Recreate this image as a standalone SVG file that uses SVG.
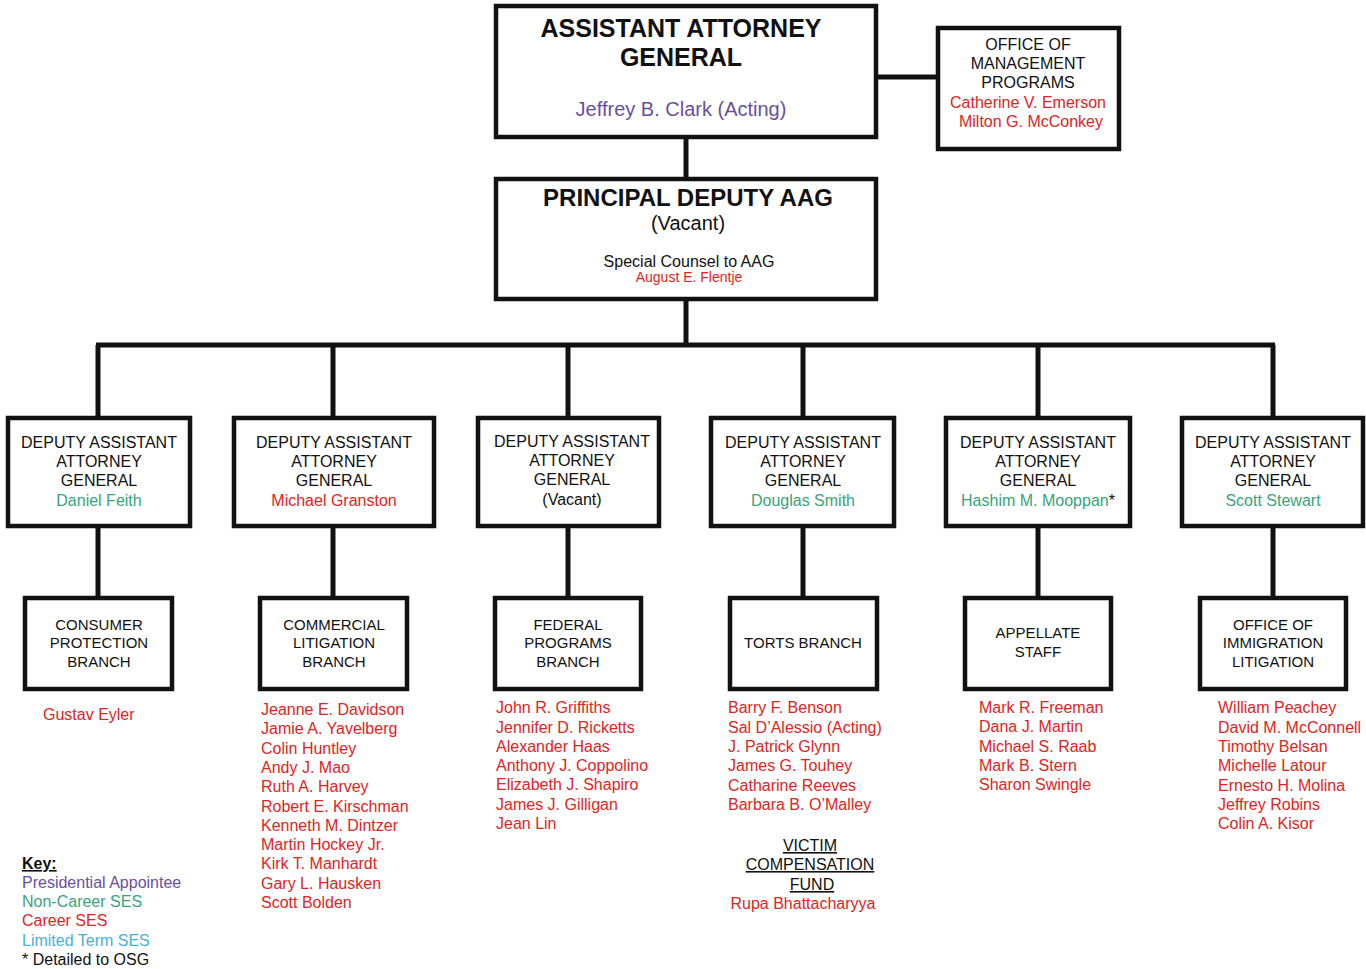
<svg xmlns="http://www.w3.org/2000/svg" width="1366" height="969" viewBox="0 0 1366 969">
<style>
.box{fill:#fff;stroke:#111;stroke-width:4.5}
.ln{stroke:#111;stroke-width:5;fill:none}
text{font-family:"Liberation Sans",Arial,sans-serif;text-anchor:middle;fill:#111}
.t16{font-size:16px}
.t15{font-size:15px}
.big{font-size:25px;font-weight:bold}
.pres{fill:#6a4fa0}
.nc{fill:#3aa37a}
.car{fill:#e02424}
.lt{fill:#4ab0d8}
.list text{text-anchor:start;font-size:16px;fill:#e02424}
.u{text-decoration:underline}
</style>
<rect width="1366" height="969" fill="#fff"/>
<g id="connectors">
<line class="ln" x1="876" y1="77" x2="938" y2="77"/>
<line class="ln" x1="686" y1="137" x2="686" y2="179"/>
<line class="ln" x1="686" y1="299" x2="686" y2="345"/>
<line class="ln" x1="96" y1="345" x2="1275" y2="345"/>
<line class="ln" x1="98" y1="345" x2="98" y2="418"/>
<line class="ln" x1="333" y1="345" x2="333" y2="418"/>
<line class="ln" x1="568" y1="345" x2="568" y2="418"/>
<line class="ln" x1="803" y1="345" x2="803" y2="418"/>
<line class="ln" x1="1038" y1="345" x2="1038" y2="418"/>
<line class="ln" x1="1273" y1="345" x2="1273" y2="418"/>
<line class="ln" x1="98" y1="526" x2="98" y2="598"/>
<line class="ln" x1="333" y1="526" x2="333" y2="598"/>
<line class="ln" x1="568" y1="526" x2="568" y2="598"/>
<line class="ln" x1="803" y1="526" x2="803" y2="598"/>
<line class="ln" x1="1038" y1="526" x2="1038" y2="598"/>
<line class="ln" x1="1273" y1="526" x2="1273" y2="598"/>
</g>
<g id="aag">
<rect class="box" x="496" y="6" width="380" height="131"/>
<text class="big" x="681" y="37">ASSISTANT ATTORNEY</text>
<text class="big" x="681" y="66">GENERAL</text>
<text class="pres" x="681" y="116" font-size="20">Jeffrey B. Clark (Acting)</text>
</g>
<g id="omp">
<rect class="box" x="938" y="28" width="181" height="121"/>
<text class="t16" x="1028" y="50">OFFICE OF</text>
<text class="t16" x="1028" y="69">MANAGEMENT</text>
<text class="t16" x="1028" y="88">PROGRAMS</text>
<text class="t16 car" x="1028" y="108">Catherine V. Emerson</text>
<text class="t16 car" x="1031" y="127">Milton G. McConkey</text>
</g>
<g id="pdaag">
<rect class="box" x="496" y="179" width="380" height="120"/>
<text x="688" y="206" font-size="24" font-weight="bold">PRINCIPAL DEPUTY AAG</text>
<text x="688" y="230" font-size="20">(Vacant)</text>
<text class="t16" x="689" y="267">Special Counsel to AAG</text>
<text class="car" x="689" y="282" font-size="14">August E. Flentje</text>
</g>
<g id="daag1">
<rect class="box" x="8" y="418" width="182" height="108"/>
<text class="t16" x="99" y="448">DEPUTY ASSISTANT</text>
<text class="t16" x="99" y="467">ATTORNEY</text>
<text class="t16" x="99" y="486">GENERAL</text>
<text class="t16 nc" x="99" y="506">Daniel Feith</text>
</g>
<g id="daag2">
<rect class="box" x="234" y="418" width="200" height="108"/>
<text class="t16" x="334" y="448">DEPUTY ASSISTANT</text>
<text class="t16" x="334" y="467">ATTORNEY</text>
<text class="t16" x="334" y="486">GENERAL</text>
<text class="t16 car" x="334" y="506">Michael Granston</text>
</g>
<g id="daag3">
<rect class="box" x="478" y="418" width="181" height="108"/>
<text class="t16" x="572" y="447">DEPUTY ASSISTANT</text>
<text class="t16" x="572" y="466">ATTORNEY</text>
<text class="t16" x="572" y="485">GENERAL</text>
<text class="t16" x="572" y="505">(Vacant)</text>
</g>
<g id="daag4">
<rect class="box" x="711" y="418" width="183" height="108"/>
<text class="t16" x="803" y="448">DEPUTY ASSISTANT</text>
<text class="t16" x="803" y="467">ATTORNEY</text>
<text class="t16" x="803" y="486">GENERAL</text>
<text class="t16 nc" x="803" y="506">Douglas Smith</text>
</g>
<g id="daag5">
<rect class="box" x="946" y="418" width="184" height="108"/>
<text class="t16" x="1038" y="448">DEPUTY ASSISTANT</text>
<text class="t16" x="1038" y="467">ATTORNEY</text>
<text class="t16" x="1038" y="486">GENERAL</text>
<text class="t16 nc" x="1038" y="506">Hashim M. Mooppan<tspan fill="#111">*</tspan></text>
</g>
<g id="daag6">
<rect class="box" x="1182" y="418" width="181" height="108"/>
<text class="t16" x="1273" y="448">DEPUTY ASSISTANT</text>
<text class="t16" x="1273" y="467">ATTORNEY</text>
<text class="t16" x="1273" y="486">GENERAL</text>
<text class="t16 nc" x="1273" y="506">Scott Stewart</text>
</g>
<g id="consumer">
<rect class="box" x="25" y="598" width="147" height="91"/>
<text class="t15" x="99" y="630">CONSUMER</text>
<text class="t15" x="99" y="648">PROTECTION</text>
<text class="t15" x="99" y="667">BRANCH</text>
</g>
<g id="commercial">
<rect class="box" x="260" y="598" width="147" height="91"/>
<text class="t15" x="334" y="630">COMMERCIAL</text>
<text class="t15" x="334" y="648">LITIGATION</text>
<text class="t15" x="334" y="667">BRANCH</text>
</g>
<g id="federal">
<rect class="box" x="495" y="598" width="146" height="91"/>
<text class="t15" x="568" y="630">FEDERAL</text>
<text class="t15" x="568" y="648">PROGRAMS</text>
<text class="t15" x="568" y="667">BRANCH</text>
</g>
<g id="torts">
<rect class="box" x="730" y="598" width="147" height="91"/>
<text class="t15" x="803" y="648">TORTS BRANCH</text>
</g>
<g id="appellate">
<rect class="box" x="965" y="598" width="146" height="91"/>
<text class="t15" x="1038" y="638">APPELLATE</text>
<text class="t15" x="1038" y="657">STAFF</text>
</g>
<g id="immigration">
<rect class="box" x="1200" y="598" width="146" height="91"/>
<text class="t15" x="1273" y="630">OFFICE OF</text>
<text class="t15" x="1273" y="648">IMMIGRATION</text>
<text class="t15" x="1273" y="667">LITIGATION</text>
</g>
<g id="consumer-staff" class="list">
<text x="43" y="720">Gustav Eyler</text>
</g>
<g id="commercial-staff" class="list">
<text x="261" y="715">Jeanne E. Davidson</text>
<text x="261" y="734">Jamie A. Yavelberg</text>
<text x="261" y="754">Colin Huntley</text>
<text x="261" y="773">Andy J. Mao</text>
<text x="261" y="792">Ruth A. Harvey</text>
<text x="261" y="812">Robert E. Kirschman</text>
<text x="261" y="831">Kenneth M. Dintzer</text>
<text x="261" y="850">Martin Hockey Jr.</text>
<text x="261" y="869">Kirk T. Manhardt</text>
<text x="261" y="889">Gary L. Hausken</text>
<text x="261" y="908">Scott Bolden</text>
</g>
<g id="federal-staff" class="list">
<text x="496" y="713">John R. Griffiths</text>
<text x="496" y="733">Jennifer D. Ricketts</text>
<text x="496" y="752">Alexander Haas</text>
<text x="496" y="771">Anthony J. Coppolino</text>
<text x="496" y="790">Elizabeth J. Shapiro</text>
<text x="496" y="810">James J. Gilligan</text>
<text x="496" y="829">Jean Lin</text>
</g>
<g id="torts-staff" class="list">
<text x="728" y="713">Barry F. Benson</text>
<text x="728" y="733">Sal D’Alessio (Acting)</text>
<text x="728" y="752">J. Patrick Glynn</text>
<text x="728" y="771">James G. Touhey</text>
<text x="728" y="791">Catharine Reeves</text>
<text x="728" y="810">Barbara B. O’Malley</text>
</g>
<g id="victim">
<text class="t16 u" x="810" y="851">VICTIM</text>
<text class="t16 u" x="810" y="870">COMPENSATION</text>
<text class="t16 u" x="812" y="890">FUND</text>
<text class="t16 car" x="803" y="909">Rupa Bhattacharyya</text>
</g>
<g id="appellate-staff" class="list">
<text x="979" y="713">Mark R. Freeman</text>
<text x="979" y="732">Dana J. Martin</text>
<text x="979" y="752">Michael S. Raab</text>
<text x="979" y="771">Mark B. Stern</text>
<text x="979" y="790">Sharon Swingle</text>
</g>
<g id="immigration-staff" class="list">
<text x="1218" y="713">William Peachey</text>
<text x="1218" y="733">David M. McConnell</text>
<text x="1218" y="752">Timothy Belsan</text>
<text x="1218" y="771">Michelle Latour</text>
<text x="1218" y="791">Ernesto H. Molina</text>
<text x="1218" y="810">Jeffrey Robins</text>
<text x="1218" y="829">Colin A. Kisor</text>
</g>
<g id="key" class="list">
<text x="22" y="869" style="fill:#111;font-weight:bold;text-decoration:underline">Key:</text>
<text x="22" y="888" style="fill:#6a4fa0">Presidential Appointee</text>
<text x="22" y="907" style="fill:#3aa37a">Non-Career SES</text>
<text x="22" y="926" style="fill:#e02424">Career SES</text>
<text x="22" y="946" style="fill:#4ab0d8">Limited Term SES</text>
<text x="22" y="965" style="fill:#111">* Detailed to OSG</text>
</g>
</svg>
